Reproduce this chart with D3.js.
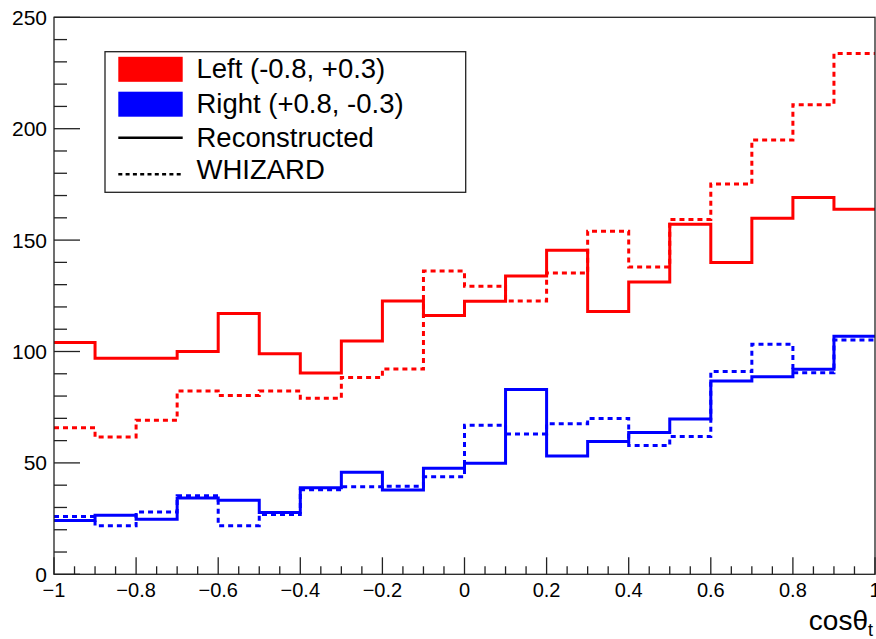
<!DOCTYPE html>
<html>
<head>
<meta charset="utf-8">
<script src="https://cdn.jsdelivr.net/npm/d3@7"></script>
<style>
  body { margin: 0; background: #fff; }
  text { font-family: "Liberation Sans", Arial, Helvetica, sans-serif; fill: #000; }
</style>
</head>
<body>
<script>
'use strict';

// lower edge of each cos(theta_t) bin, width 0.1
const binLow = [-1, -0.9, -0.8, -0.7, -0.6, -0.5, -0.4, -0.3, -0.2, -0.1,
                0, 0.1, 0.2, 0.3, 0.4, 0.5, 0.6, 0.7, 0.8, 0.9];
const binWidth = 0.1;

// Left (-0.8, +0.3)
const leftReco    = [104, 97, 97, 100, 117, 99, 90.4, 104.7, 122.7, 116.2,
                     122.5, 133.9, 145.4, 118, 131.2, 157.1, 139.9, 159.8, 169.1, 163.8];
const leftWhizard = [65.8, 61.6, 69.1, 82.3, 80.2, 82.3, 79, 88.3, 92.2, 136.1,
                     129.3, 122.7, 135.2, 154, 137.9, 159.3, 175.2, 194.9, 210.8, 233.7];
// Right (+0.8, -0.3)
const rightReco    = [24.1, 26.5, 24.7, 34.3, 33.2, 27.7, 38.9, 45.8, 37.8, 47.6,
                      49.8, 83, 53.1, 59.6, 63.6, 69.7, 86.8, 88.7, 92, 106.8];
const rightWhizard = [25.9, 21.8, 28, 35.2, 21.8, 26.8, 38, 39.3, 39.5, 43.8,
                      66.9, 63, 67.6, 69.9, 57.8, 61.8, 91, 103.2, 90.5, 105.2];

const yTicks = [0, 50, 100, 150, 200, 250];
const xTicks = [-1, -0.8, -0.6, -0.4, -0.2, 0, 0.2, 0.4, 0.6, 0.8, 1];

const legendItems = [
  {label: "Left (-0.8, +0.3)", kind: "box", color: "#ff0000"},
  {label: "Right (+0.8, -0.3)", kind: "box", color: "#0000ff"},
  {label: "Reconstructed", kind: "solid", color: "#000"},
  {label: "WHIZARD", kind: "dash", color: "#000"}
];

const width = 876, height = 639;
const svg = d3.select("body").append("svg")
  .attr("width", width)
  .attr("height", height);

const x = d3.scaleLinear().domain([-1, 1]).range([54, 875]);
const y = d3.scaleLinear().domain([0, 250]).range([574.3, 17.3]);

// histograms drawn as step outlines
const step = d3.line()
  .x(d => x(d[0]))
  .y(d => y(d[1]))
  .curve(d3.curveStepAfter);

function histPoints(vals) {
  let pts = binLow.map((b, i) => [b, vals[i]]);
  pts.push([binLow[binLow.length - 1] + binWidth, vals[vals.length - 1]]);
  return pts;
}

const series = [
  {vals: leftWhizard, color: "#ff0000", dash: "5,4"},
  {vals: leftReco, color: "#ff0000", dash: null},
  {vals: rightWhizard, color: "#0000ff", dash: "5,4"},
  {vals: rightReco, color: "#0000ff", dash: null}
];

series.forEach(s => {
  svg.append("path")
    .attr("d", step(histPoints(s.vals)))
    .attr("fill", "none")
    .attr("stroke", s.color)
    .attr("stroke-width", 3)
    .attr("stroke-dasharray", s.dash);
});

// frame
svg.append("rect")
  .attr("x", x(-1)).attr("y", y(250))
  .attr("width", x(1) - x(-1)).attr("height", y(0) - y(250))
  .attr("fill", "none").attr("stroke", "#222").attr("stroke-width", 1.3);

// y axis ticks (inside) + labels
const yMinor = d3.range(0, 251, 10);
svg.append("g").selectAll("line").data(yMinor).enter().append("line")
  .attr("x1", x(-1))
  .attr("x2", d => x(-1) + (d % 50 === 0 ? 26 : 13))
  .attr("y1", d => y(d)).attr("y2", d => y(d))
  .attr("stroke", "#222").attr("stroke-width", 1.3);

svg.append("g").selectAll("text").data(yTicks).enter().append("text")
  .attr("x", 47)
  .attr("y", d => y(d) + 7.5)
  .attr("text-anchor", "end")
  .style("font-size", "21px")
  .text(d => d);

// x axis ticks (inside) + labels
const xMinor = d3.range(0, 41).map(i => -1 + i * 0.05);
svg.append("g").selectAll("line").data(xMinor).enter().append("line")
  .attr("x1", d => x(d)).attr("x2", d => x(d))
  .attr("y1", y(0))
  .attr("y2", (d, i) => y(0) - (i % 4 === 0 ? 17 : 8))
  .attr("stroke", "#222").attr("stroke-width", 1.3);

const fmt = d => (d < 0 ? "\u2212" : "") + d3.format("")(Math.abs(+d.toFixed(1)));
svg.append("g").selectAll("text").data(xTicks).enter().append("text")
  .attr("x", d => x(d))
  .attr("y", 597)
  .attr("text-anchor", "middle")
  .style("font-size", "20px")
  .text(fmt);

// axis title
const title = svg.append("text")
  .attr("x", 873)
  .attr("y", 630)
  .attr("text-anchor", "end")
  .style("font-size", "28px");
title.append("tspan").text("cos\u03b8");
title.append("tspan").attr("dy", 6).style("font-size", "18px").text("t");

// legend
const legend = svg.append("g");
legend.append("rect")
  .attr("x", 105).attr("y", 51.7)
  .attr("width", 360.7).attr("height", 140.6)
  .attr("fill", "#fff").attr("stroke", "#222").attr("stroke-width", 1.3);

const rowCenter = [69.3, 104.2, 137.7, 174.3];
const rowBase = [78, 112.5, 146.5, 179];
legendItems.forEach((item, i) => {
  if (item.kind === "box") {
    legend.append("rect")
      .attr("x", 118.3).attr("y", rowCenter[i] - 12.5)
      .attr("width", 64.4).attr("height", 25)
      .attr("fill", item.color);
  } else {
    legend.append("line")
      .attr("x1", 118.3).attr("x2", 182.7)
      .attr("y1", rowCenter[i]).attr("y2", rowCenter[i])
      .attr("stroke", item.color)
      .attr("stroke-width", 2.5)
      .attr("stroke-dasharray", item.kind === "dash" ? "4,3.3" : null);
  }
  legend.append("text")
    .attr("x", 196.5)
    .attr("y", rowBase[i])
    .style("font-size", "27.5px")
    .text(item.label);
});
</script>
</body>
</html>
